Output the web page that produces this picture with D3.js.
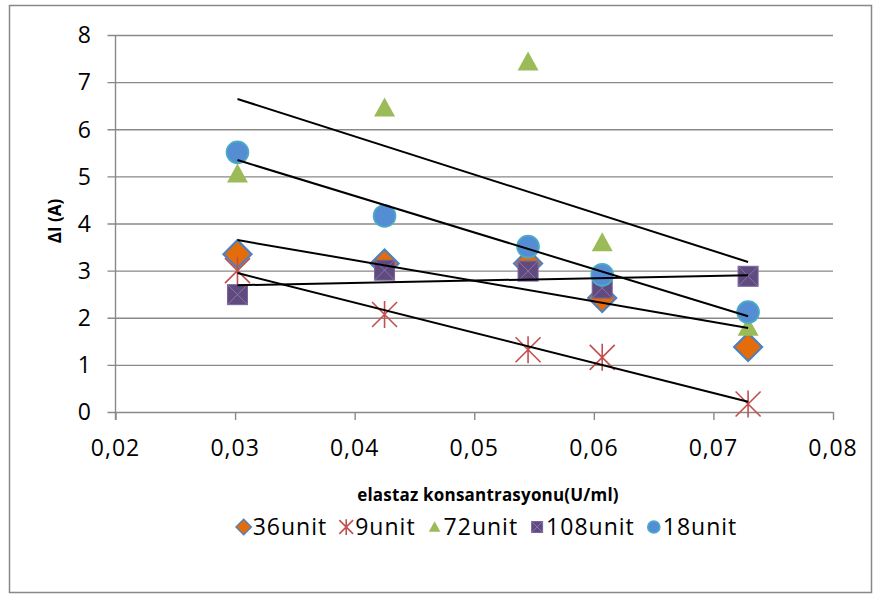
<!DOCTYPE html>
<html>
<head>
<meta charset="utf-8">
<script src="https://cdn.jsdelivr.net/npm/d3@7"></script>
<style>
  body { margin: 0; background: #fff; }
  svg text { font-family: "Open Sans", "Liberation Sans", sans-serif; fill: #000; }
</style>
</head>
<body>
<div id="chart"></div>
<script>
// concentrations (x) shared by every series
var konsantrasyon = [0.0302, 0.0425, 0.0545, 0.0607, 0.0729];

// delta I values per series
var unit36  = [3.35, 3.15, 3.15, 2.42, 1.38];
var unit9   = [3.0, 2.07, 1.32, 1.16, 0.17];
var unit72  = [5.05, 6.45, 7.43, 3.59, 1.8];
var unit108 = [2.49, 3.01, 2.99, 2.63, 2.88];
var unit18  = [5.51, 4.16, 3.51, 2.91, 2.12];

var seriesNames = ["36unit", "9unit", "72unit", "108unit", "18unit"];
var xTicks = [0.02, 0.03, 0.04, 0.05, 0.06, 0.07, 0.08];
var yTicks = [0, 1, 2, 3, 4, 5, 6, 7, 8];

var allSeries = [unit36, unit9, unit72, unit108, unit18];

var W = 874, H = 596;
var margin = {top: 35, right: 41, bottom: 184, left: 115.5};

var svg = d3.select("#chart").append("svg")
  .attr("width", W).attr("height", H);

// outer chart frame
svg.append("rect")
  .attr("x", 9.5).attr("y", 5.5)
  .attr("width", 862).attr("height", 587)
  .attr("fill", "#fff").attr("stroke", "#888").attr("stroke-width", 1.5);

var x = d3.scaleLinear().domain([0.02, 0.08]).range([margin.left, W - margin.right]);
var y = d3.scaleLinear().domain([0, 8]).range([H - margin.bottom, margin.top]);

var gridCol = "#898989";

// horizontal grid + left ticks
svg.append("g")
  .attr("transform", "translate(" + margin.left + ",0)")
  .call(d3.axisLeft(y).tickValues(yTicks).tickSize(-(x(0.08) - margin.left)).tickFormat(""))
  .call(function(g){
    g.select(".domain").remove();
    g.selectAll("line").attr("stroke", gridCol).attr("stroke-width", 1.4).attr("x1", -8);
  });

// y axis line
svg.append("line")
  .attr("x1", margin.left).attr("x2", margin.left)
  .attr("y1", y(8)).attr("y2", y(0) + 8)
  .attr("stroke", gridCol).attr("stroke-width", 1.4);

// x ticks (down)
svg.append("g")
  .attr("transform", "translate(0," + y(0) + ")")
  .call(d3.axisBottom(x).tickValues(xTicks).tickSize(8).tickFormat(""))
  .call(function(g){
    g.select(".domain").remove();
    g.selectAll("line").attr("stroke", gridCol).attr("stroke-width", 1.4);
  });

// tick labels
svg.append("g").selectAll("text").data(yTicks).join("text")
  .attr("x", 91).attr("y", function(d){ return y(d); })
  .attr("dy", "0.36em")
  .attr("text-anchor", "end")
  .style("font-size", "23px")
  .text(function(d){ return d; });

svg.append("g").selectAll("text").data(xTicks).join("text")
  .attr("x", function(d){ return x(d); }).attr("y", 456)
  .attr("text-anchor", "middle")
  .style("font-size", "23px").style("letter-spacing", "1px")
  .text(function(d){ return d.toFixed(2).replace(".", ","); });

// axis titles
svg.append("text")
  .attr("x", 488).attr("y", 501)
  .attr("text-anchor", "middle")
  .style("font-size", "17px").style("font-weight", "bold").style("letter-spacing", "0.2px")
  .text("elastaz konsantrasyonu(U/ml)");

svg.append("text")
  .attr("transform", "translate(61,221) rotate(-90)")
  .attr("text-anchor", "middle")
  .style("font-size", "17px").style("font-weight", "bold")
  .text("ΔI (A)");

// marker painters, s = scale factor
function drawMarker(g, name, s) {
  if (name == "36unit") {
    var r = 14 * s;
    g.append("path")
      .attr("d", "M0," + (-r) + "L" + r + ",0L0," + r + "L" + (-r) + ",0Z")
      .attr("fill", "#E46C0A").attr("stroke", "#4F81BD").attr("stroke-width", 1.8 * s + 0.4);
  } else if (name == "9unit") {
    var a = 12.5 * s;
    g.append("path")
      .attr("d", "M" + (-a) + "," + (-a) + "L" + a + "," + a +
                 "M" + (-a) + "," + a + "L" + a + "," + (-a) +
                 "M0," + (-a - 1) + "L0," + (a + 1))
      .attr("fill", "none").attr("stroke", "#C0504D").attr("stroke-width", 1.6);
  } else if (name == "72unit") {
    var w = 10.5 * s, h = 19 * s;
    g.append("path")
      .attr("d", "M0," + (-h * 0.55) + "L" + w + "," + (h * 0.45) + "L" + (-w) + "," + (h * 0.45) + "Z")
      .attr("fill", "#9BBB59");
  } else if (name == "108unit") {
    var q = 10 * s;
    g.append("rect")
      .attr("x", -q).attr("y", -q).attr("width", 2 * q).attr("height", 2 * q)
      .attr("fill", "#5F4B7E").attr("stroke", "#7A63A0").attr("stroke-width", 1);
    g.append("path")
      .attr("d", "M" + (-q) + "," + (-q) + "L" + q + "," + q + "M" + (-q) + "," + q + "L" + q + "," + (-q))
      .attr("stroke", "#8C73B0").attr("stroke-width", 1);
  } else {
    g.append("circle")
      .attr("r", 11 * s)
      .attr("fill", "#548DD4").attr("stroke", "#4BACC6").attr("stroke-width", 1.6);
  }
}

// scatter points
allSeries.forEach(function(vals, i){
  var name = seriesNames[i];
  var layer = svg.append("g");
  vals.forEach(function(v, j){
    var g = layer.append("g")
      .attr("transform", "translate(" + x(konsantrasyon[j]) + "," + y(v) + ")");
    drawMarker(g, name, 1);
  });
});

// linear trendlines (least squares over each series)
function fitLine(xs, ys) {
  var mx = d3.mean(xs), my = d3.mean(ys);
  var sxy = d3.sum(xs, function(d, i){ return (d - mx) * (ys[i] - my); });
  var sxx = d3.sum(xs, function(d){ return (d - mx) * (d - mx); });
  var b = sxy / sxx;
  return function(v){ return my + b * (v - mx); };
}

var x0 = d3.min(konsantrasyon), x1 = d3.max(konsantrasyon);
allSeries.forEach(function(vals){
  var f = fitLine(konsantrasyon, vals);
  svg.append("line")
    .attr("x1", x(x0)).attr("y1", y(f(x0)))
    .attr("x2", x(x1)).attr("y2", y(f(x1)))
    .attr("stroke", "#000").attr("stroke-width", 2);
});

// legend
var legend = svg.append("g");
var cursor = 0;
seriesNames.forEach(function(name){
  var item = legend.append("g").attr("transform", "translate(" + cursor + ",0)");
  drawMarker(item.append("g").attr("transform", "translate(7,0)"), name, 0.55);
  var t = item.append("text")
    .attr("x", 16).attr("dy", "0.36em")
    .style("font-size", "23px").style("letter-spacing", "1px")
    .text(name);
  cursor += 16 + t.node().getComputedTextLength() + 12;
});
cursor -= 12;
legend.attr("transform", "translate(" + (487 - cursor / 2) + ",527)");
</script>
</body>
</html>
